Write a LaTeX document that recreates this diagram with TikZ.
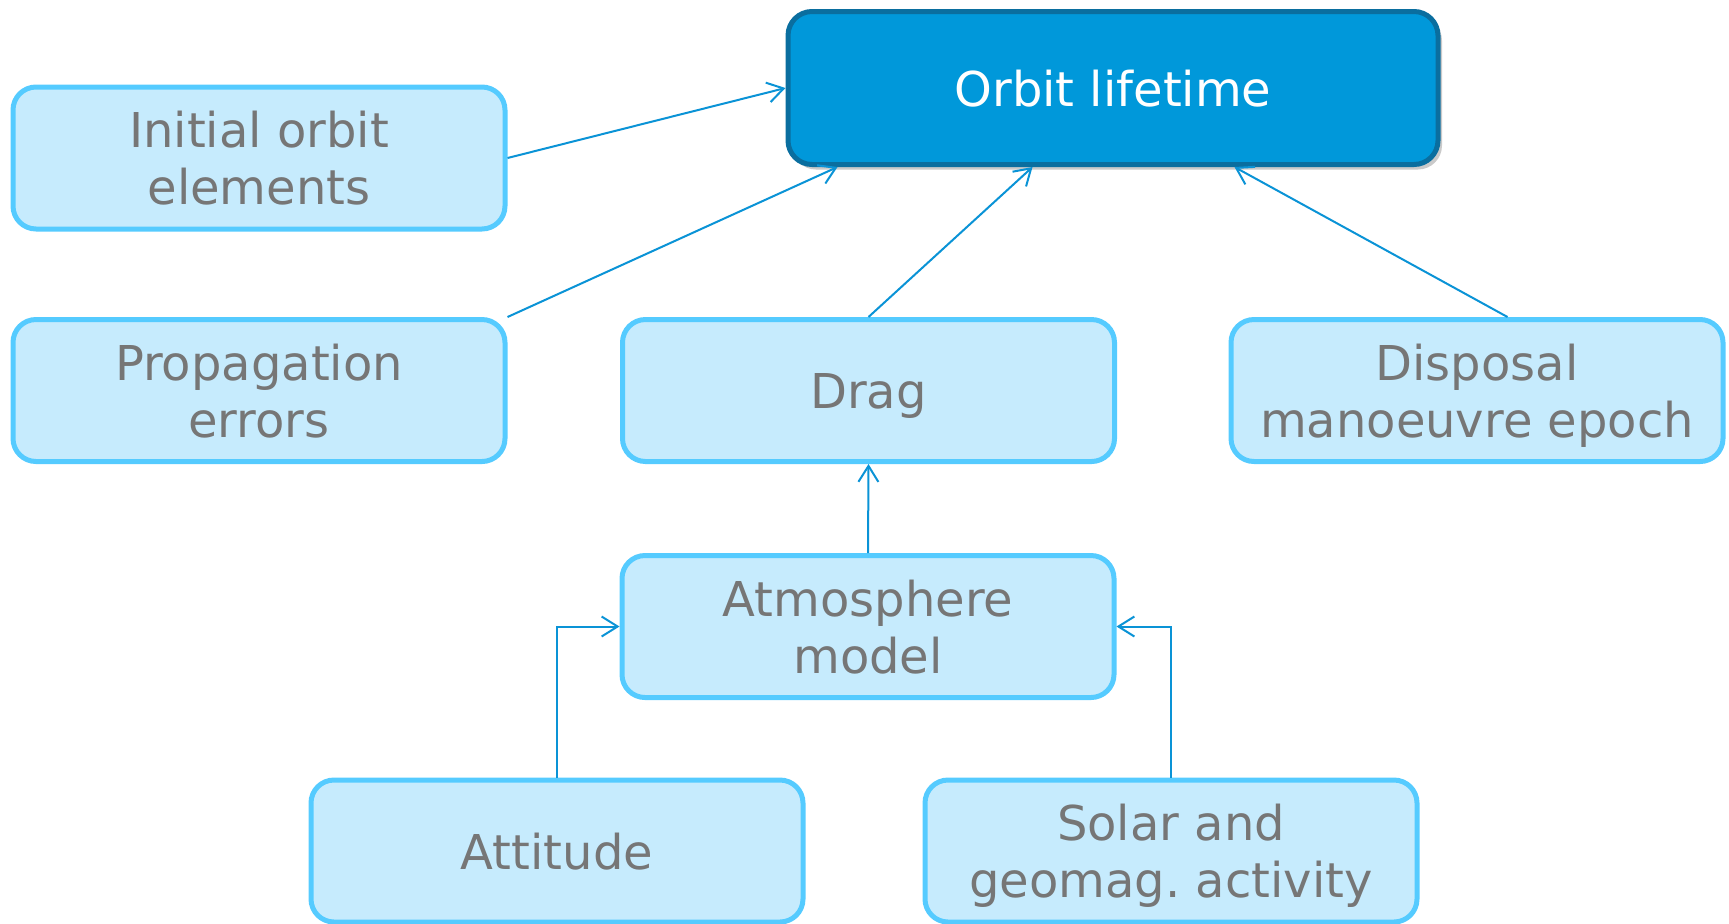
\documentclass[tikz,border=0pt]{standalone}
\usepackage{fontspec}
\setmainfont{DejaVu Sans}
\usetikzlibrary{arrows.meta,calc,shadows}
\definecolor{boxfill}{HTML}{C6EBFD}
\definecolor{boxline}{HTML}{55CBFF}
\definecolor{txtgray}{HTML}{767676}
\definecolor{topfill}{HTML}{0098DA}
\definecolor{topline}{HTML}{0A6E9F}
\definecolor{arr}{HTML}{0A93D6}
\tikzset{
  lbox/.style={draw=boxline, fill=boxfill, line width=2.5pt, rounded corners=11.5pt,
    text=txtgray, align=center, inner sep=0pt, text depth=0pt,
    minimum width=246pt, minimum height=71pt,
    font=\fontsize{24}{28.5}\selectfont},
  topbox/.style={draw=topline, fill=topfill, line width=2.5pt, rounded corners=12pt,
    text=white, align=center, inner sep=0pt, text depth=0pt,
    font=\fontsize{24}{28.5}\selectfont,
    drop shadow={shadow xshift=2pt, shadow yshift=-2.5pt, opacity=0.35, fill=black!60}},
  conn/.style={draw=arr, line width=1pt, -{Straight Barb[length=8pt,width=10pt,line width=1pt]}},
}
\begin{document}
\begin{tikzpicture}[x=0.5pt,y=-0.5pt]
\useasboundingbox (0,0) rectangle (1729,923);
\node[topbox, minimum width=325pt, minimum height=76.5pt] (orbit) at (1113,88) {Orbit lifetime};
\node[lbox] (init) at (259,158) {Initial orbit\\elements};
\node[lbox] (prop) at (259,390.5) {Propagation\\errors};
\node[lbox] (drag) at (868.5,390.5) {Drag};
\node[lbox] (disp) at (1477,390.5) {Disposal\\manoeuvre epoch};
\node[lbox] (atm) at (868,626.5) {Atmosphere\\model};
\node[lbox] (att) at (557,851) {Attitude};
\node[lbox] (sol) at (1171,851) {Solar and\\geomag.\ activity};

\coordinate (o1) at ($(orbit.south west)+(52,0)$);
\coordinate (o2) at ($(orbit.south west)+(247,0)$);
\coordinate (o3) at ($(orbit.south west)+(449,0)$);
\coordinate (d1) at ($(disp.north west)+(279,0)$);

\draw[conn] (init.east) -- (orbit.west);
\draw[conn] (prop.north east) -- (o1);
\draw[conn] (drag.north) -- (o2);
\draw[conn] (d1) -- (o3);
\draw[conn] (atm.north) -- (drag.south);
\draw[conn] (att.north) |- (atm.west);
\draw[conn] (sol.north) |- (atm.east);
\end{tikzpicture}
\end{document}
